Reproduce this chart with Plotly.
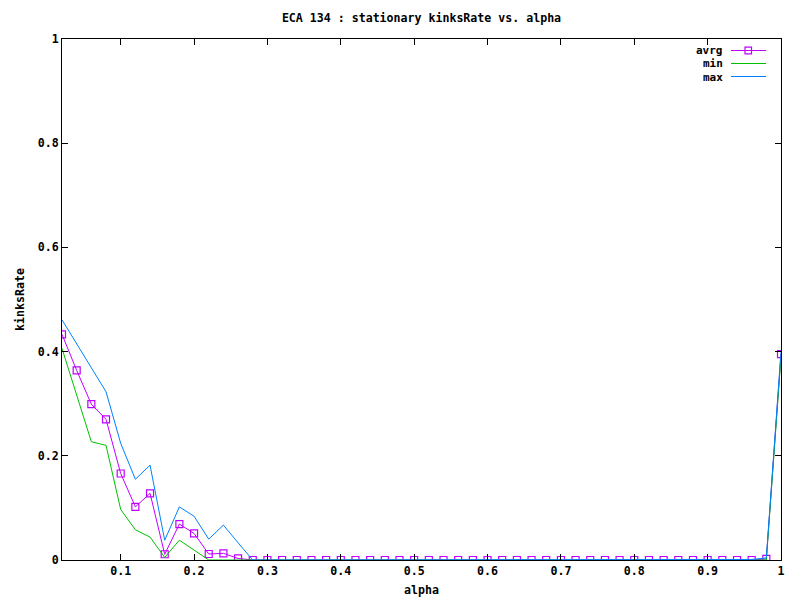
import plotly.graph_objects as go

alpha = [round(0.02 * i, 2) for i in range(1, 51)]

avrg = [0.433, 0.364, 0.299, 0.270, 0.166, 0.102, 0.128, 0.011, 0.069, 0.051,
        0.0115, 0.0128, 0.003, 0.0, 0.0, 0.0, 0.0, 0.0, 0.0, 0.0,
        0.0, 0.0, 0.0, 0.0, 0.0, 0.0, 0.0, 0.0, 0.0, 0.0,
        0.0, 0.0, 0.0, 0.0, 0.0, 0.0, 0.0, 0.0, 0.0, 0.0,
        0.0, 0.0, 0.0, 0.0, 0.0, 0.0, 0.0, 0.0, 0.002, 0.395]
vmin = [0.406, 0.318, 0.227, 0.220, 0.097, 0.058, 0.044, 0.005, 0.038, 0.019,
        0.0, 0.0, 0.0, 0.0, 0.0, 0.0, 0.0, 0.0, 0.0, 0.0,
        0.0, 0.0, 0.0, 0.0, 0.0, 0.0, 0.0, 0.0, 0.0, 0.0,
        0.0, 0.0, 0.0, 0.0, 0.0, 0.0, 0.0, 0.0, 0.0, 0.0,
        0.0, 0.0, 0.0, 0.0, 0.0, 0.0, 0.0, 0.0, 0.0, 0.39]
vmax = [0.461, 0.415, 0.369, 0.323, 0.224, 0.155, 0.182, 0.038, 0.102, 0.084,
        0.040, 0.067, 0.033, 0.0, 0.0, 0.0, 0.0, 0.0, 0.0, 0.0,
        0.0, 0.0, 0.0, 0.0, 0.0, 0.0, 0.0, 0.0, 0.0, 0.0,
        0.0, 0.0, 0.0, 0.0, 0.0, 0.0, 0.0, 0.0, 0.0, 0.0,
        0.0, 0.0, 0.0, 0.0, 0.0, 0.0, 0.0, 0.001, 0.004, 0.40]

xticks = [0.1, 0.2, 0.3, 0.4, 0.5, 0.6, 0.7, 0.8, 0.9, 1.0]
xticklabels = ["0.1", "0.2", "0.3", "0.4", "0.5", "0.6", "0.7", "0.8", "0.9", "1"]
yticks = [0, 0.2, 0.4, 0.6, 0.8, 1.0]
yticklabels = ["0", "0.2", "0.4", "0.6", "0.8", "1"]

C_AVG = "#c000ff"
C_MIN = "#00c000"
C_MAX = "#0080ff"
FONT = dict(family="DejaVu Sans Mono", size=11.6, color="black", weight="bold")
LFONT = dict(family="DejaVu Sans Mono", size=11, color="black", weight="bold")

fig = go.Figure()
fig.add_trace(go.Scatter(x=alpha, y=avrg, name="avrg", mode="lines+markers",
                         line=dict(color=C_AVG, width=1),
                         marker=dict(symbol="square-open", size=7, color=C_AVG, line=dict(width=1.2))))
fig.add_trace(go.Scatter(x=alpha, y=vmin, name="min", mode="lines",
                         line=dict(color=C_MIN, width=1)))
fig.add_trace(go.Scatter(x=alpha, y=vmax, name="max", mode="lines",
                         line=dict(color=C_MAX, width=1)))

# the page body adds an 8px offset; size the figure so it fills the 800x600 window
OFF = 8
W, H = 800 - OFF, 600 - OFF
L, R, T, B = 62 - OFF, 19, 39 - OFF, 40
PW, PH = W - L - R, H - T - B

def px(xp):
    return (xp - OFF - L) / PW

def py(yp):
    return (H - B - (yp - OFF)) / PH

annotations = []
shapes = []
legend = [("avrg", C_AVG, 50.5), ("min", C_MIN, 63.5), ("max", C_MAX, 76.5)]
for name, col, yy in legend:
    annotations.append(dict(text=name, x=px(724), y=py(yy), xref="paper", yref="paper",
                            xanchor="right", yanchor="middle", showarrow=False, font=LFONT,
                            height=12, borderpad=0, align="right"))
    shapes.append(dict(type="line", xref="paper", yref="paper", x0=px(731), x1=px(766),
                       y0=py(yy), y1=py(yy), line=dict(color=col, width=1)))
shapes.append(dict(type="rect", xref="paper", yref="paper", x0=px(745), x1=px(751.5),
                   y0=py(53.8), y1=py(47.2), line=dict(color=C_AVG, width=1.2)))

fig.update_layout(
    width=W, height=H,
    margin=dict(l=L, r=R, t=T, b=B, autoexpand=False),
    plot_bgcolor="white", paper_bgcolor="white",
    showlegend=False,
    font=FONT,
    title=dict(text="ECA 134 : stationary kinksRate vs. alpha", x=(L + PW / 2) / W, xanchor="center",
               y=1 - (18 - OFF) / H, yanchor="middle", font=FONT, automargin=False),
    annotations=annotations,
    shapes=shapes,
)
fig.update_xaxes(range=[0.02, 1.0], tickvals=xticks, ticktext=xticklabels, automargin=False,
                 showline=True, linecolor="black", linewidth=1, mirror="ticks",
                 ticks="inside", ticklen=6, tickcolor="black", showgrid=False, zeroline=False,
                 title=dict(text="alpha", font=FONT, standoff=8), tickfont=FONT)
fig.update_yaxes(range=[0, 1.0], tickvals=yticks, ticktext=yticklabels, automargin=False,
                 showline=True, linecolor="black", linewidth=1, mirror="ticks",
                 ticks="inside", ticklen=6, tickcolor="black", showgrid=False, zeroline=False,
                 title=dict(text="kinksRate", font=FONT, standoff=10), tickfont=FONT)

fig.write_html("out.html")
